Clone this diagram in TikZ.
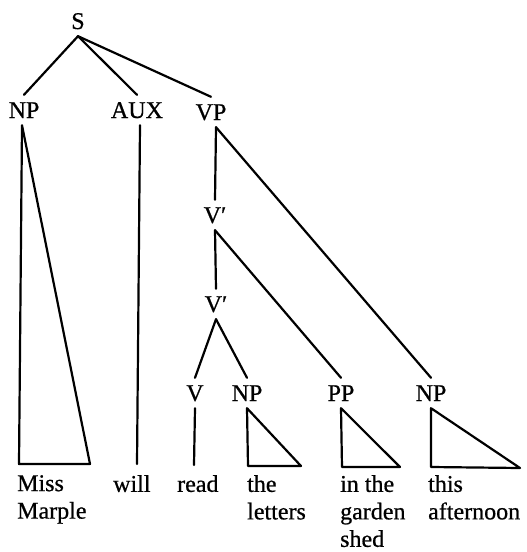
\documentclass[tikz,border=0pt]{standalone}
\usepackage{fontspec}
\setmainfont{Liberation Serif}[FakeBold=0.7]
\usepackage{tikz}
\usetikzlibrary{positioning}

\begin{document}
\begin{tikzpicture}[
    x=1pt, y=-1pt,
    cat/.style={font=\fontsize{24}{28}\selectfont, inner xsep=0pt, inner ysep=7pt, text height=16pt, text depth=0pt},
    leaf/.style={font=\fontsize{24}{27.5}\selectfont, anchor=north west, inner sep=0pt, align=left},
    branch/.style={line width=2.2pt, line cap=round, line join=round}
]
\useasboundingbox (0,0) rectangle (527,552);

% Categories
\node[cat] (S) at (78,21) {S};
\node[cat] (NPsubj) at (24,110) {NP};
\node[cat] (AUX) at (137,110) {AUX};
\node[cat] (VP) at (211,112) {VP};
\node[cat] (Vbar1) at (215,215) {V′};
\node[cat] (Vbar2) at (216,304) {V′};
\node[cat] (V) at (195,393) {V};
\node[cat] (NPobj) at (247,393) {NP};
\node[cat] (PP) at (341,393) {PP};
\node[cat] (NPadv) at (431,393) {NP};

% Words
\node[leaf] (miss) at (17,475) {Miss\\Marple};
\node[leaf] (will) at (113,475) {will};
\node[leaf] (read) at (177,475) {read};
\node[leaf] (letters) at (247,475) {the\\letters};
\node[leaf] (shed) at (340,475) {in the\\garden\\shed};
\node[leaf] (afternoon) at (428,475) {this\\afternoon};

% Branches
\draw[branch] (S.south) -- (NPsubj.north);
\draw[branch] (S.south) -- (AUX.north);
\draw[branch] (S.south) -- (VP.north);
\draw[branch] ([xshift=5pt]VP.south) -- (Vbar1.north);
\draw[branch] ([xshift=5pt]VP.south) -- (NPadv.north);
\draw[branch] (Vbar1.south) -- (Vbar2.north);
\draw[branch] (Vbar1.south) -- (PP.north);
\draw[branch] (Vbar2.south) -- (V.north);
\draw[branch] (Vbar2.south) -- (NPobj.north);

% Unary lines and triangles
\coordinate (auxend) at (137,464);
\coordinate (vend) at (194,465);
\draw[branch] ([xshift=3pt]AUX.south) -- (auxend);
\draw[branch] (V.south) -- (vend);
\draw[branch] ([xshift=-2pt]NPsubj.south) -- (19,464) -- (90,464) -- cycle;
\draw[branch] (NPobj.south) -- (248,466) -- (301,466) -- cycle;
\draw[branch] (PP.south) -- (342,467) -- (400,467) -- cycle;
\draw[branch] (NPadv.south) -- (431,467) -- (520,468) -- cycle;

\end{tikzpicture}
\end{document}
